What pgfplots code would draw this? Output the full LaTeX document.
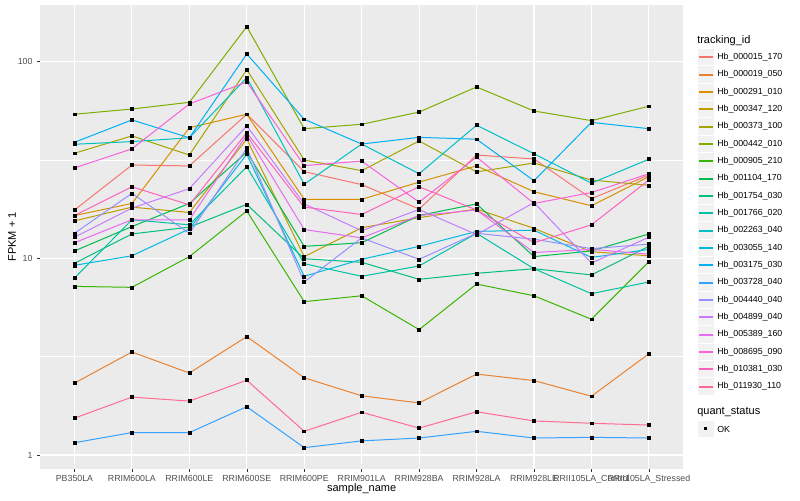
\documentclass[border=0pt]{standalone}
\usepackage{fontspec}
\setmainfont{Liberation Sans}
\usepackage{pgfplots}
\usepackage{pgfplotstable}
\pgfplotsset{compat=1.18}

% ggplot hue palette, 20 levels
\definecolor{c1}{HTML}{F8766D}
\definecolor{c2}{HTML}{EA8331}
\definecolor{c3}{HTML}{D89000}
\definecolor{c4}{HTML}{C09B00}
\definecolor{c5}{HTML}{A3A500}
\definecolor{c6}{HTML}{7CAE00}
\definecolor{c7}{HTML}{39B600}
\definecolor{c8}{HTML}{00BB4E}
\definecolor{c9}{HTML}{00BF7D}
\definecolor{c10}{HTML}{00C1A3}
\definecolor{c11}{HTML}{00BFC4}
\definecolor{c12}{HTML}{00BAE0}
\definecolor{c13}{HTML}{00B0F6}
\definecolor{c14}{HTML}{35A2FF}
\definecolor{c15}{HTML}{9590FF}
\definecolor{c16}{HTML}{C77CFF}
\definecolor{c17}{HTML}{E76BF3}
\definecolor{c18}{HTML}{FA62DB}
\definecolor{c19}{HTML}{FF62BC}
\definecolor{c20}{HTML}{FF6C91}
\definecolor{panel}{HTML}{EBEBEB}
\definecolor{keybg}{HTML}{F2F2F2}
\definecolor{tickgrey}{HTML}{4D4D4D}
\definecolor{tickmark}{HTML}{333333}

% FPKM + 1 per sample (rows) and tracking id (columns s1..s20)
\pgfplotstableread{
x  s1   s2   s3    s4   s5   s6    s7   s8   s9   s10  s11  s12  s13   s14   s15  s16  s17  s18  s19  s20
0  17.6 2.32 16.5  15.5 34.2 54.0  7.20 10.9 9.43 7.94 38.0 9.21 38.9  1.155 13.4 12.8 12.0 28.8 16.5 1.54
1  29.8 3.34 19.0  18.2 41.9 57.4  7.12 14.5 13.3 15.7 39.2 10.3 50.5  1.30  21.4 18.0 15.7 36.0 23.1 1.97
2  29.5 2.61 46.1  17.1 33.5 62.1  10.2 19.0 14.4 14.8 41.0 14.1 41.0  1.30  13.4 22.6 15.7 60.9 18.7 1.88
3  54.0 4.00 54.0  40.4 91.0 150.5 17.4 34.7 18.8 29.2 82.8 33.8 109.3 1.76  36.3 47.1 42.4 78.8 43.5 2.40
4  27.6 2.47 19.95 10.2 31.6 45.6  6.02 11.5 9.95 9.39 23.8 8.10 50.9  1.09  7.58 18.9 14.0 29.6 18.2 1.32
5  23.7 2.00 19.95 14.3 27.9 48.0  6.45 12.0 9.54 8.10 38.1 9.88 38.1  1.18  12.7 13.8 12.7 31.2 16.7 1.65
6  17.8 1.84 24.4  16.1 39.5 55.4  4.34 16.5 7.82 9.14 26.9 11.5 41.2  1.22  9.88 17.7 16.5 19.3 23.1 1.37
7  33.5 2.58 29.5  17.8 27.5 74.3  7.40 18.9 8.39 13.4 47.5 13.7 40.3  1.32  13.4 13.2 17.6 32.7 17.6 1.66
8  32.0 2.39 21.8  14.2 30.5 56.1  6.45 10.2 8.85 8.85 34.0 13.9 24.8  1.22  12.5 19.2 10.7 19.0 12.0 1.49
9  20.1 1.99 18.5  10.8 25.0 50.1  4.90 10.9 8.23 6.61 24.1 10.1 49.1  1.23  11.2 9.46 11.1 21.6 14.8 1.45
10 26.5 3.27 26.0  10.3 23.5 59.3  9.61 13.3 11.5 7.58 31.9 11.1 45.6  1.22  11.8 12.8 10.5 26.9 25.0 1.42
}\data

\begin{document}
\begin{tikzpicture}
\begin{axis}[
  at={(30pt,23.25pt)}, anchor=south west,
  scale only axis, width=482.5pt, height=348pt,
  ymode=log, ymin=0.849, ymax=194,
  xmin=-0.6, xmax=10.6,
  axis background/.style={fill=panel},
  axis line style={draw=none},
  xtick={0,...,10},
  xticklabels={PB350LA,RRIM600LA,RRIM600LE,RRIM600SE,RRIM600PE,RRIM901LA,RRIM928BA,RRIM928LA,RRIM928LE,RRII105LA\_Control,RRII105LA\_Stressed},
  ytick={1,10,100}, yticklabels={1,10,100},
  minor ytick={3.1623,31.623},
  grid=both,
  major grid style={white, line width=0.8pt},
  minor grid style={white, line width=0.4pt},
  tick align=outside, major tick length=2.1pt, minor tick length=0pt,
  tick style={tickmark, line width=0.4pt},
  tick pos=left,
  ticklabel style={font=\fontsize{6.6}{7}\selectfont, text=tickgrey},
  xticklabel style={yshift=1pt},
  xlabel={sample\_name}, ylabel={FPKM + 1},
  label style={font=\fontsize{8.25}{9}\selectfont},
  xlabel style={at={(axis description cs:0.5,-0.0425)}, anchor=center},
  ylabel style={at={(axis description cs:-0.0435,0.5)}, anchor=center},
]
\pgfplotsinvokeforeach{1,...,20}{
  \addplot[c#1, line width=0.75pt, no markers] table[x=x, y=s#1] {\data};
}
\pgfplotsinvokeforeach{1,...,20}{
  \addplot[only marks, mark=square*, mark size=1.1pt, black] table[x=x, y=s#1] {\data};
}
\end{axis}

% legend, in pixel units of the 800x500 picture
\begin{scope}[x=0.75pt, y=-0.75pt, yshift=375pt]
  \node[anchor=west, inner sep=0, font=\fontsize{8.25}{9}\selectfont] at (697,41) {tracking\_id};
  \foreach \i/\name in {1/Hb\_000015\_170, 2/Hb\_000019\_050, 3/Hb\_000291\_010, 4/Hb\_000347\_120,
      5/Hb\_000373\_100, 6/Hb\_000442\_010, 7/Hb\_000905\_210, 8/Hb\_001104\_170, 9/Hb\_001754\_030,
      10/Hb\_001766\_020, 11/Hb\_002263\_040, 12/Hb\_003055\_140, 13/Hb\_003175\_030, 14/Hb\_003728\_040,
      15/Hb\_004440\_040, 16/Hb\_004899\_040, 17/Hb\_005389\_160, 18/Hb\_008695\_090, 19/Hb\_010381\_030,
      20/Hb\_011930\_110} {
    \pgfmathsetmacro\yc{57.3+(\i-1)*17.33}
    \pgfmathsetmacro\yl{round(\yc)-0.6}
    \fill[keybg] (697.5,\yc-8.2) rectangle (714.3,\yc+8.2);
    \fill[color=c\i] (699,\yl) rectangle (713,\yl+1.6);
    \node[anchor=west, inner sep=0, font=\fontsize{6.6}{7}\selectfont] at (717,\yc) {\name};
  }
  \node[anchor=west, inner sep=0, font=\fontsize{8.25}{9}\selectfont] at (697,412.5) {quant\_status};
  \fill[keybg] (697.5,429-8.2) rectangle (714.3,429+8.2);
  \fill[black] (704,427.5) rectangle (707,430.5);
  \node[anchor=west, inner sep=0, font=\fontsize{6.6}{7}\selectfont] at (717,429) {OK};
\end{scope}
\pgfresetboundingbox
\useasboundingbox (0,0) rectangle (600pt,375pt);
\end{tikzpicture}
\end{document}
